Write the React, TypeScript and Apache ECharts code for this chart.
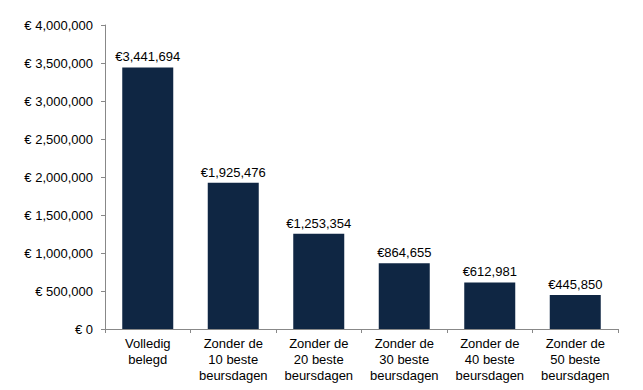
import React, { useEffect, useRef } from "react";
import * as echarts from "echarts";

const categories = [
  "Volledig\nbelegd",
  "Zonder de\n10 beste\nbeursdagen",
  "Zonder de\n20 beste\nbeursdagen",
  "Zonder de\n30 beste\nbeursdagen",
  "Zonder de\n40 beste\nbeursdagen",
  "Zonder de\n50 beste\nbeursdagen",
];
const values = [3441694, 1925476, 1253354, 864655, 612981, 445850];
const yMin = 0;
const yMax = 4000000;
const yInterval = 500000;

const fmt = (v: number) => v.toLocaleString("en-US");

export default function App() {
  const ref = useRef<HTMLDivElement>(null);
  useEffect(() => {
    if (!ref.current) return;
    const chart = echarts.init(ref.current, null, { renderer: "svg" });
    const font = "'Liberation Sans', Arial, sans-serif";
    chart.setOption({
      animation: false,
      grid: { left: 105, right: 25, top: 25, bottom: 61, containLabel: false },
      xAxis: {
        type: "category",
        data: categories,
        axisLine: { show: true, lineStyle: { color: "#888888", width: 1 } },
        axisTick: { show: true, length: 4, alignWithLabel: false, lineStyle: { color: "#888888" } },
        axisLabel: {
          color: "#000000",
          fontFamily: font,
          fontSize: 13,
          lineHeight: 16,
          margin: 6,
          interval: 0,
        },
      },
      yAxis: {
        type: "value",
        min: yMin,
        max: yMax,
        interval: yInterval,
        splitLine: { show: false },
        axisLine: { show: true, lineStyle: { color: "#888888", width: 1 } },
        axisTick: { show: true, length: 4, lineStyle: { color: "#888888" } },
        axisLabel: {
          color: "#000000",
          fontFamily: font,
          fontSize: 13,
          margin: 12,
          formatter: (v: number) => "€ " + fmt(v),
        },
      },
      series: [
        {
          type: "bar",
          data: values,
          barWidth: 51,
          itemStyle: { color: "#0f2643" },
          label: {
            show: true,
            position: "top",
            distance: 4,
            color: "#000000",
            fontFamily: font,
            fontSize: 13,
            formatter: (p: any) => "€" + fmt(p.value),
          },
        },
      ],
    });
    return () => chart.dispose();
  }, []);
  return <div ref={ref} style={{ width: 643, height: 390, position: "absolute", left: 0, top: 0 }} />;
}
